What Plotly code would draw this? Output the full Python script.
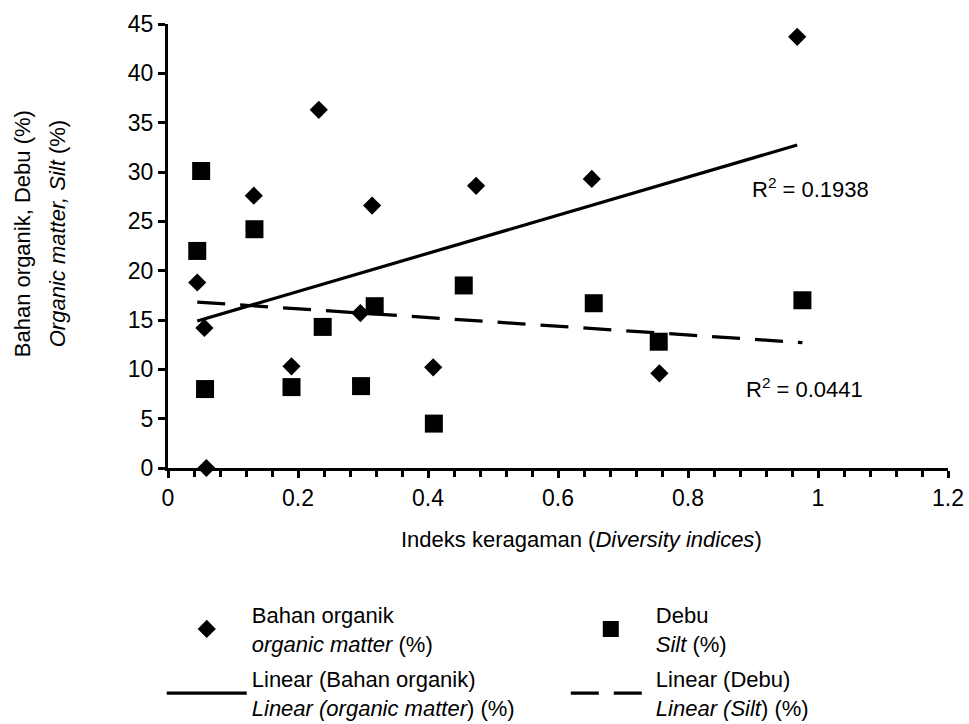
import numpy as np
import plotly.graph_objects as go

# ---- data ----
om_x = [0.045, 0.056, 0.059, 0.132, 0.190, 0.232, 0.296, 0.314, 0.408, 0.474, 0.652, 0.756, 0.968]
om_y = [18.8, 14.2, 0.0, 27.6, 10.3, 36.3, 15.7, 26.6, 10.2, 28.6, 29.3, 9.6, 43.7]

silt_x = [0.045, 0.051, 0.057, 0.133, 0.190, 0.238, 0.297, 0.318, 0.409, 0.455, 0.655, 0.755, 0.976]
silt_y = [22.0, 30.1, 8.0, 24.2, 8.2, 14.3, 8.3, 16.4, 4.5, 18.5, 16.7, 12.8, 17.0]

r2_labels = ["R<sup>2</sup> = 0.1938", "R<sup>2</sup> = 0.0441"]
r2_pos = [(0.895, 28.4), (0.886, 8.1)]

x_ticks = [0, 0.2, 0.4, 0.6, 0.8, 1, 1.2]
x_ticktext = ["0", "0.2", "0.4", "0.6", "0.8", "1", "1.2"]
y_ticks = [0, 5, 10, 15, 20, 25, 30, 35, 40, 45]

y_title_lines = ["Bahan organik, Debu (%)", "<i>Organic matter, Silt</i> (%)"]
x_title = "Indeks keragaman (<i>Diversity indices</i>)"


def trend(xs, ys):
    a, b = np.polyfit(xs, ys, 1)
    xx = np.array([min(xs), max(xs)])
    return xx, a * xx + b


FONT = "Liberation Sans, Arial, Helvetica, sans-serif"

fig = go.Figure()

fig.add_trace(go.Scatter(
    x=om_x, y=om_y, mode="markers", cliponaxis=False,
    marker=dict(symbol="diamond", size=14, color="black"),
    name="Bahan organik<br><i>organic matter</i> (%)",
    legend="legend", legendgroup="a", legendrank=1))

tx, ty = trend(om_x, om_y)
fig.add_trace(go.Scatter(
    x=tx, y=ty, mode="lines", line=dict(color="black", width=3.2),
    name="Linear (Bahan organik)<br><i>Linear (organic matter</i>) (%)",
    legend="legend", legendgroup="b", legendrank=2))

fig.add_trace(go.Scatter(
    x=silt_x, y=silt_y, mode="markers", cliponaxis=False,
    marker=dict(symbol="square", size=18, color="black"),
    name="Debu<br><i>Silt</i> (%)",
    legend="legend2", legendgroup="c", legendrank=1))

sx, sy = trend(silt_x, silt_y)
fig.add_trace(go.Scatter(
    x=sx, y=sy, mode="lines", line=dict(color="black", width=3.2, dash="28px,15px"),
    name="Linear (Debu)<br><i>Linear (Silt</i>) (%)",
    legend="legend2", legendgroup="d", legendrank=2))

for txt, (ax, ay) in zip(r2_labels, r2_pos):
    fig.add_annotation(x=ax, y=ay, text=txt, showarrow=False, xanchor="left",
                       yanchor="middle", font=dict(size=22, color="black", family=FONT))

# axis titles
fig.add_annotation(xref="paper", yref="paper", x=0.53, y=-0.16, showarrow=False,
                   text=x_title, font=dict(size=22, color="black", family=FONT),
                   yanchor="middle")
for txt, px in zip(y_title_lines, [-0.187, -0.142]):
    fig.add_annotation(xref="paper", yref="paper", x=px, y=0.527, showarrow=False,
                       textangle=-90, text=txt, xanchor="center", yanchor="middle",
                       font=dict(size=22, color="black", family=FONT))

legend_common = dict(
    orientation="v", xanchor="left", yanchor="top",
    font=dict(size=22, color="black", family=FONT),
    bgcolor="rgba(0,0,0,0)", tracegroupgap=4, itemwidth=80,
    valign="middle", traceorder="grouped",
)

fig.update_layout(
    width=969, height=724,
    margin=dict(l=168, r=21, t=24, b=256, autoexpand=False),
    paper_bgcolor="white", plot_bgcolor="white",
    font=dict(family=FONT, color="black", size=22),
    showlegend=True,
    legend=dict(x=-0.008, y=-0.2835, **legend_common),
    legend2=dict(x=0.51, y=-0.2835, **legend_common),
    xaxis=dict(
        range=[0, 1.2], tickvals=x_ticks, ticktext=x_ticktext,
        showline=True, linecolor="black", linewidth=3,
        ticks="outside", ticklen=7, tickwidth=3, tickcolor="black",
        showgrid=False, zeroline=False, automargin=False,
        minor=dict(dtick=0.04, tick0=0, ticks="outside", ticklen=6, tickwidth=2.5, tickcolor="black", showgrid=False),
        tickfont=dict(size=23, color="black", family=FONT),
    ),
    yaxis=dict(
        range=[0, 45], tickvals=y_ticks,
        showline=True, linecolor="black", linewidth=3,
        ticks="outside", ticklen=7, tickwidth=3, tickcolor="black",
        showgrid=False, zeroline=False, automargin=False,
        tickfont=dict(size=23, color="black", family=FONT),
    ),
)

fig.write_html(
    "out.html",
    config={"displayModeBar": False},
    post_script="document.body.style.margin='0px';document.body.style.overflow='hidden';",
)
